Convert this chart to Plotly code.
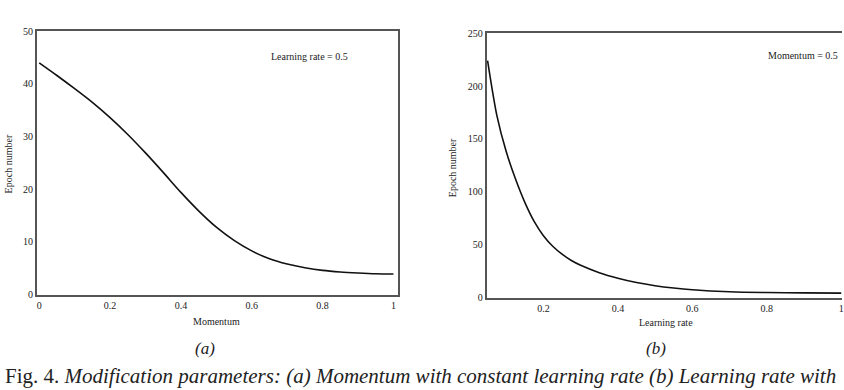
import plotly.graph_objects as go

# (a) Momentum vs epoch number (learning rate = 0.5)
momentum = [0.0, 0.05, 0.1, 0.15, 0.2, 0.25, 0.3, 0.35, 0.4, 0.45, 0.5, 0.55, 0.6, 0.65, 0.7, 0.75, 0.8, 0.85, 0.9, 0.95, 1.0]
epochs_a = [44.0, 41.6, 39.1, 36.5, 33.6, 30.4, 26.9, 23.2, 19.4, 15.9, 12.8, 10.3, 8.3, 6.8, 5.8, 5.1, 4.6, 4.3, 4.1, 3.95, 3.9]

# (b) Learning rate vs epoch number (momentum = 0.5)
learning_rate = [0.05, 0.075, 0.1, 0.125, 0.15, 0.175, 0.2, 0.225, 0.25, 0.275, 0.3, 0.35, 0.4, 0.45, 0.5, 0.55, 0.6, 0.7, 0.8, 0.9, 1.0]
epochs_b = [224, 172, 138, 112, 90, 72, 58.5, 48.5, 41, 35, 30.5, 23.5, 18.3, 14.2, 11.2, 9.0, 7.4, 5.5, 4.7, 4.35, 4.1]

xticks_a = [0, 0.2, 0.4, 0.6, 0.8, 1]
xticklabels_a = ["0", "0.2", "0.4", "0.6", "0.8", "1"]
yticks_a = [0, 10, 20, 30, 40, 50]
xticks_b = [0.2, 0.4, 0.6, 0.8, 1]
xticklabels_b = ["0.2", "0.4", "0.6", "0.8", "1"]
yticks_b = [0, 50, 100, 150, 200, 250]

W, H = 844, 390
FONT = "Liberation Serif"
BOX = "#555555"

def px(x):
    return x / W

def py(y):
    return 1 - y / H

fig = go.Figure()
fig.add_trace(go.Scatter(x=momentum, y=epochs_a, mode="lines",
                         line=dict(color="#111111", width=1.6, shape="spline", smoothing=0.8),
                         xaxis="x", yaxis="y", showlegend=False))
fig.add_trace(go.Scatter(x=learning_rate, y=epochs_b, mode="lines",
                         line=dict(color="#111111", width=1.6, shape="spline", smoothing=0.8),
                         xaxis="x2", yaxis="y2", showlegend=False))

tickfont = dict(family=FONT, size=10, color="#222222")
common = dict(showgrid=False, zeroline=False, ticks="", tickfont=tickfont, linecolor=BOX, linewidth=2, showline=True)

fig.update_layout(
    width=W, height=H,
    margin=dict(l=0, r=0, t=0, b=0),
    paper_bgcolor="white", plot_bgcolor="white",
    xaxis=dict(domain=[px(37), px(399)], range=[-0.0065, 1.013], tickvals=xticks_a, ticktext=xticklabels_a,
               anchor="y", mirror=True, **common),
    yaxis=dict(domain=[py(298), py(27)], range=[0, 50], tickvals=yticks_a, anchor="x", mirror=True, **common),
    xaxis2=dict(domain=[px(488), 1.0], range=[0.048, 1.002], tickvals=xticks_b, ticktext=xticklabels_b,
                anchor="y2", mirror=True, ticklabeloverflow="allow", **common),
    yaxis2=dict(domain=[py(301), py(29)], range=[0, 250], tickvals=yticks_b, anchor="x2", mirror=False, **common),
)

ann = []
def text(t, x, y, size=10, xanchor="center", yanchor="middle", angle=0):
    ann.append(dict(text=t, x=px(x), y=py(y), xref="paper", yref="paper", showarrow=False,
                    xanchor=xanchor, yanchor=yanchor, textangle=angle,
                    font=dict(family=FONT, size=size, color="#222222")))

text("Learning rate = 0.5", 310, 53)
text("Momentum = 0.5", 842, 52, xanchor="right")
text("Momentum", 217, 326)
text("Learning rate", 668, 327)
text("Epoch number", 8, 163, angle=-90)
text("Epoch number", 453, 167, angle=-90)
text("<i>(a)</i>", 205, 353, size=17)
text("<i>(b)</i>", 658, 353, size=17)
text("Fig. 4. <i>Modification parameters: (a) Momentum with constant learning rate (b) Learning rate with</i>",
     3, 367, size=21, xanchor="left", yanchor="top")
fig.update_layout(annotations=ann)

fig.write_html("out.html")
